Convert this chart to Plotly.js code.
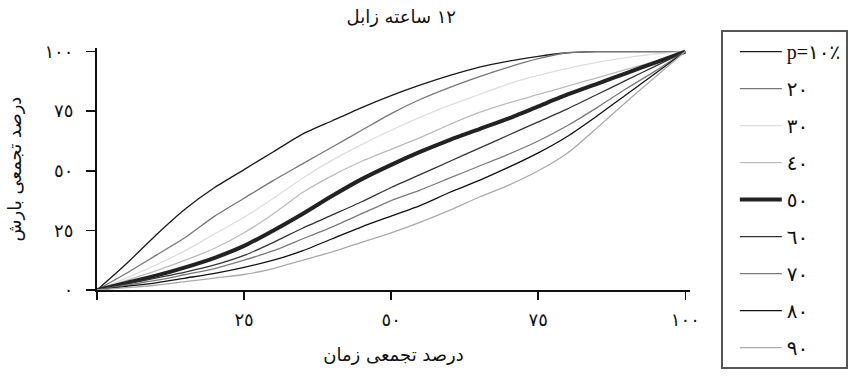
<!DOCTYPE html>
<html>
<head>
<meta charset="utf-8">
<script src="https://cdn.plot.ly/plotly-3.0.1.min.js"></script>
<style>
  html, body { margin: 0; padding: 0; background: #fff; }
  #chart { width: 863px; height: 381px; }
</style>
</head>
<body>
<div id="chart"></div>
<script>
// cumulative time (%)
var time_pct = [0, 5, 10, 15, 20, 25, 30, 35, 40, 45, 50, 55, 60, 65, 70, 75, 80, 85, 90, 95, 100];

// cumulative rainfall (%) for each probability level
var p10 = [0, 11, 23, 34, 43, 50.5, 58, 65.5, 71, 76.5, 81.5, 86, 90, 93.5, 96, 98, 99.5, 100, 100, 100, 100];
var p20 = [0, 7, 14.5, 22, 31, 38.5, 46, 53, 60, 67, 74, 80, 85, 89.5, 93.5, 97, 99.5, 100, 100, 100, 100];
var p30 = [0, 5, 10.5, 16.5, 23.5, 30.5, 38.5, 47, 54.5, 61, 67, 72.5, 77.5, 82, 86.5, 90, 93, 95.5, 97.5, 99, 100];
var p40 = [0, 4, 8, 12.5, 17.5, 24, 32, 41, 48, 54, 59, 64, 69.5, 74.5, 78.5, 82, 85.5, 89, 92.5, 96, 100];
var p50 = [0, 3, 6, 9.5, 13.5, 18.5, 25, 32, 39.5, 46.5, 52.5, 58, 63, 67.5, 72, 77, 82, 86.5, 91, 95.5, 100];
var p60 = [0, 2.5, 5, 7.5, 10.5, 14.5, 20, 26, 31.5, 37, 43, 48.5, 54, 59.5, 65, 70.5, 76, 82, 88, 94, 100];
var p70 = [0, 2, 4, 6.5, 9, 12.5, 16.5, 21.5, 26.5, 32, 37.5, 42, 47, 52, 57, 62.5, 69, 76.5, 84.5, 92, 100];
var p80 = [0, 1.5, 3, 5, 7, 9.5, 12.5, 16.5, 21.5, 26.5, 31, 35.5, 41, 46, 51.5, 57.5, 64.5, 73, 82, 91, 100];
var p90 = [0, 1, 2, 3.5, 5, 6.5, 9, 12.5, 16, 20, 24, 28.5, 33.5, 39, 44, 50, 57.5, 68, 79, 89.5, 100];

var series_names = ['p=١٠٪', '٢٠', '٣٠', '٤٠', '٥٠', '٦٠', '٧٠', '٨٠', '٩٠'];
var series_vals = [p10, p20, p30, p40, p50, p60, p70, p80, p90];

var tick_vals = [0, 25, 50, 75, 100];
var x_tick_text = ['', '٢٥', '٥٠', '٧٥', '١٠٠'];
var y_tick_text = ['٠', '٢٥', '٥٠', '٧٥', '١٠٠'];

var colors = ['#1a1a1a', '#777777', '#dddddd', '#bbbbbb', '#222222', '#333333', '#7a7a7a', '#111111', '#aaaaaa'];
var widths = [1.3, 1.3, 1.3, 1.3, 4, 1.3, 1.3, 1.3, 1.3];

var data = [];
for (var i = 0; i < series_vals.length; i++) {
  data.push({
    x: time_pct,
    y: series_vals[i],
    type: 'scatter',
    mode: 'lines',
    name: series_names[i],
    legendgroup: 'g' + i,
    line: {color: colors[i], width: widths[i], shape: 'spline', smoothing: 0.6}
  });
}

var arfont = 'DejaVu Sans, Noto Sans, sans-serif';

var layout = {
  width: 863,
  height: 381,
  margin: {l: 97, r: 173, t: 48, b: 91},
  paper_bgcolor: '#fff',
  plot_bgcolor: '#fff',
  title: {
    text: '١٢ ساعته زابل',
    font: {family: arfont, size: 18, color: '#111'},
    x: 0.465, xanchor: 'center', y: 0.955, yanchor: 'middle'
  },
  xaxis: {
    range: [0, 100.8],
    tickvals: tick_vals,
    ticktext: x_tick_text,
    ticks: 'outside',
    ticklen: 8,
    tickwidth: 1.5,
    tickcolor: '#111',
    ticklabelstandoff: 4,
    showline: true,
    linecolor: '#111',
    linewidth: 2,
    showgrid: false,
    zeroline: false,
    tickfont: {family: arfont, size: 18, color: '#111'},
    title: {text: 'درصد تجمعی زمان', font: {family: arfont, size: 18, color: '#111'}, standoff: 20}
  },
  yaxis: {
    range: [0, 101.5],
    tickvals: tick_vals,
    ticktext: y_tick_text,
    ticks: 'outside',
    ticklen: 9,
    tickwidth: 1.5,
    tickcolor: '#111',
    ticklabelstandoff: 9,
    showline: true,
    linecolor: '#111',
    linewidth: 2,
    showgrid: false,
    zeroline: false,
    tickfont: {family: arfont, size: 18, color: '#111'},
    title: {text: 'درصد تجمعی بارش', font: {family: arfont, size: 18, color: '#111'}, standoff: 18}
  },
  showlegend: true,
  legend: {
    x: 1.052, xanchor: 'left',
    y: 1.074, yanchor: 'top',
    bgcolor: '#fff',
    bordercolor: '#555',
    borderwidth: 2,
    tracegroupgap: 8,
    itemwidth: 42,
    indentation: 12,
    maxheight: 1,
    font: {family: 'Liberation Serif, DejaVu Sans, serif', size: 20, color: '#111'}
  }
};

Plotly.newPlot('chart', data, layout, {displayModeBar: false, staticPlot: true});
</script>
</body>
</html>
